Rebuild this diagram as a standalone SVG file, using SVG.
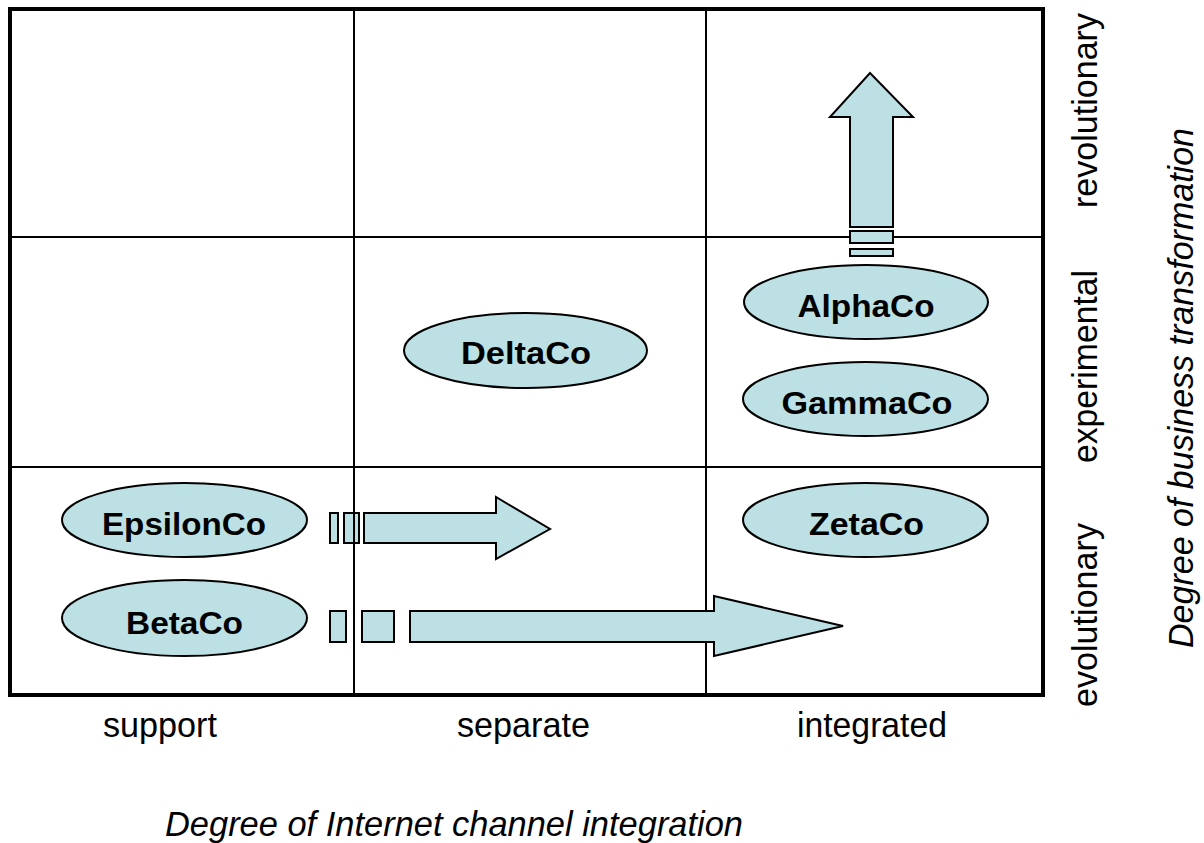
<svg xmlns="http://www.w3.org/2000/svg" width="1204" height="843" viewBox="0 0 1204 843">
<style>
.grid{stroke:#000;stroke-width:2;fill:none}
.frame{stroke:#000;stroke-width:4;fill:none}
.node ellipse{fill:#BCE0E3;stroke:#000;stroke-width:2}
.node text{font-family:"Liberation Sans",Arial,sans-serif;font-weight:bold;font-size:32px;text-anchor:middle;fill:#000}
.arr{fill:#BCE0E3;stroke:#000;stroke-width:2;stroke-linejoin:miter}
.lbl{font-family:"Liberation Sans",Arial,sans-serif;font-size:35px;text-anchor:middle;fill:#000}
.ttl{font-family:"Liberation Sans",Arial,sans-serif;font-size:35px;font-style:italic;text-anchor:middle;fill:#000}
</style>
<rect x="0" y="0" width="1204" height="843" fill="#fff"/>
<g id="grid">
<line class="grid" x1="354" y1="9" x2="354" y2="695"/>
<line class="grid" x1="706" y1="9" x2="706" y2="695"/>
<line class="grid" x1="10" y1="237" x2="1043" y2="237"/>
<line class="grid" x1="10" y1="467" x2="1043" y2="467"/>
<rect class="frame" x="10" y="9" width="1033" height="686"/>
</g>
<g id="connectors">
<g id="arrow-alpha">
<polygon class="arr" points="870,73 913,117 893,117 893,227 850,227 850,117 830,117"/>
<rect class="arr" x="850" y="231" width="43" height="12"/>
<rect class="arr" x="850" y="249" width="43" height="7"/>
</g>
<g id="arrow-epsilon">
<rect class="arr" x="330" y="513" width="8" height="30"/>
<rect class="arr" x="344" y="513" width="15" height="30"/>
<line class="grid" x1="354" y1="512" x2="354" y2="544"/>
<polygon class="arr" points="364,513 496,513 496,497 550,529 496,559 496,543 364,543"/>
</g>
<g id="arrow-beta">
<rect class="arr" x="330" y="611" width="16" height="31"/>
<rect class="arr" x="362" y="611" width="32" height="31"/>
<polygon class="arr" points="410,611 714,611 714,596 843,626 714,656 714,642 410,642"/>
</g>
</g>
<g id="alphaco" class="node"><ellipse cx="866" cy="302" rx="122" ry="37"/><text x="866" y="317" textLength="137" lengthAdjust="spacingAndGlyphs">AlphaCo</text></g>
<g id="gammaco" class="node"><ellipse cx="865.5" cy="399" rx="122.5" ry="37"/><text x="867" y="414" textLength="171" lengthAdjust="spacingAndGlyphs">GammaCo</text></g>
<g id="zetaco" class="node"><ellipse cx="865.5" cy="520" rx="122.5" ry="37"/><text x="866.5" y="535" textLength="115" lengthAdjust="spacingAndGlyphs">ZetaCo</text></g>
<g id="deltaco" class="node"><ellipse cx="525.5" cy="350.5" rx="121.5" ry="37.5"/><text x="526" y="364" textLength="130" lengthAdjust="spacingAndGlyphs">DeltaCo</text></g>
<g id="epsilonco" class="node"><ellipse cx="184.5" cy="520" rx="122.5" ry="37"/><text x="184" y="535" textLength="164" lengthAdjust="spacingAndGlyphs">EpsilonCo</text></g>
<g id="betaco" class="node"><ellipse cx="184.5" cy="618" rx="122.5" ry="38"/><text x="184.5" y="634" textLength="117" lengthAdjust="spacingAndGlyphs">BetaCo</text></g>
<g id="labels">
<text class="lbl" x="160" y="737" textLength="114" lengthAdjust="spacingAndGlyphs">support</text>
<text class="lbl" x="523.5" y="737" textLength="133" lengthAdjust="spacingAndGlyphs">separate</text>
<text class="lbl" x="872" y="737" textLength="150" lengthAdjust="spacingAndGlyphs">integrated</text>
<text class="ttl" x="454" y="836" textLength="578" lengthAdjust="spacingAndGlyphs">Degree of Internet channel integration</text>
<text class="lbl" x="1097" y="110.5" transform="rotate(-90 1097 110.5)" textLength="195" lengthAdjust="spacingAndGlyphs">revolutionary</text>
<text class="lbl" x="1097" y="366.5" transform="rotate(-90 1097 366.5)" textLength="193" lengthAdjust="spacingAndGlyphs">experimental</text>
<text class="lbl" x="1097" y="615" transform="rotate(-90 1097 615)" textLength="184" lengthAdjust="spacingAndGlyphs">evolutionary</text>
<text class="ttl" x="1193" y="388" transform="rotate(-90 1193 388)" textLength="520" lengthAdjust="spacingAndGlyphs">Degree of business transformation</text>
</g>
</svg>
